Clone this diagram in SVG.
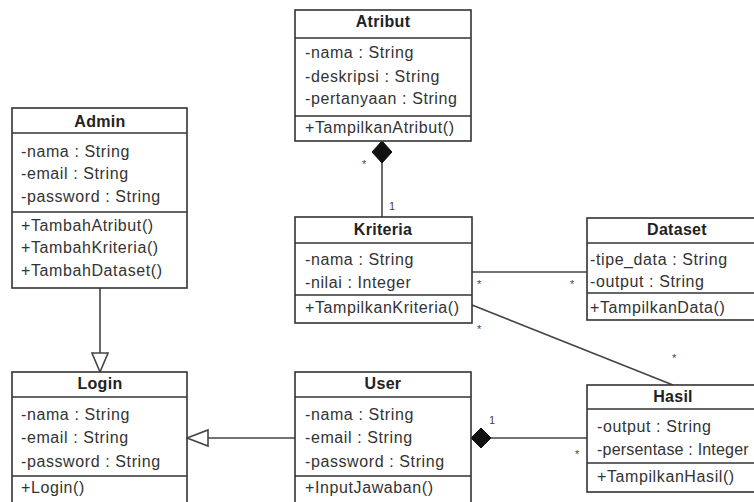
<svg xmlns="http://www.w3.org/2000/svg" width="754" height="502" viewBox="0 0 754 502">
<style>
.box{fill:#fff;stroke:#333;stroke-width:1.6}
.sep{stroke:#333;stroke-width:1.6}
.t{font-family:"Liberation Sans",Arial,sans-serif;font-size:16px;letter-spacing:0.6px;fill:#333}
.h{font-family:"Liberation Sans",Arial,sans-serif;font-size:16px;font-weight:bold;letter-spacing:0.3px;fill:#222;text-anchor:middle}
.ln{stroke:#444;stroke-width:1.6;fill:none}
.m{font-family:"Liberation Sans",Arial,sans-serif;font-size:11px;fill:#444}
</style>
<rect width="754" height="502" fill="#fff"/>
<g id="connectors">
<line class="ln" x1="382" y1="162" x2="382" y2="217"/>
<polygon points="382,141 392,152 382,163 372,152" fill="#111" stroke="#111"/>
<text class="m" x="362" y="168">*</text>
<text class="m" x="389" y="210">1</text>
<line class="ln" x1="472" y1="272" x2="587" y2="272"/>
<text class="m" x="477" y="288">*</text>
<text class="m" x="570" y="288">*</text>
<line class="ln" x1="472" y1="305" x2="673" y2="385"/>
<text class="m" x="477" y="333">*</text>
<text class="m" x="672" y="362">*</text>
<line class="ln" x1="100" y1="288" x2="100" y2="353"/>
<polygon points="92,353 108,353 100,372" fill="#fff" stroke="#444" stroke-width="1.6"/>
<line class="ln" x1="208" y1="438" x2="295" y2="438"/>
<polygon points="187,438 208,430 208,446" fill="#fff" stroke="#444" stroke-width="1.6"/>
<line class="ln" x1="491" y1="438" x2="587" y2="438"/>
<polygon points="471,438 481,428 491,438 481,448" fill="#111" stroke="#111"/>
<text class="m" x="489" y="424">1</text>
<text class="m" x="575" y="458">*</text>
</g>
<g id="Atribut">
<rect class="box" x="295" y="10" width="176" height="131"/>
<line class="sep" x1="295" y1="38" x2="471" y2="38"/>
<line class="sep" x1="295" y1="116" x2="471" y2="116"/>
<text class="h" x="383" y="27">Atribut</text>
<text class="t" x="305" y="58">-nama : String</text>
<text class="t" x="305" y="82">-deskripsi : String</text>
<text class="t" x="305" y="104">-pertanyaan : String</text>
<text class="t" x="305" y="133">+TampilkanAtribut()</text>
</g>
<g id="Admin">
<rect class="box" x="12" y="108" width="175" height="180"/>
<line class="sep" x1="12" y1="133" x2="187" y2="133"/>
<line class="sep" x1="12" y1="212" x2="187" y2="212"/>
<text class="h" x="100" y="127">Admin</text>
<text class="t" x="21" y="157">-nama : String</text>
<text class="t" x="21" y="179">-email : String</text>
<text class="t" x="21" y="202">-password : String</text>
<text class="t" x="21" y="231">+TambahAtribut()</text>
<text class="t" x="21" y="253">+TambahKriteria()</text>
<text class="t" x="21" y="276">+TambahDataset()</text>
</g>
<g id="Kriteria">
<rect class="box" x="295" y="217" width="177" height="106"/>
<line class="sep" x1="295" y1="243" x2="472" y2="243"/>
<line class="sep" x1="295" y1="295" x2="472" y2="295"/>
<text class="h" x="383" y="235">Kriteria</text>
<text class="t" x="305" y="265">-nama : String</text>
<text class="t" x="305" y="288">-nilai : Integer</text>
<text class="t" x="305" y="313">+TampilkanKriteria()</text>
</g>
<g id="Dataset">
<rect class="box" x="587" y="218" width="180" height="102"/>
<line class="sep" x1="587" y1="243" x2="767" y2="243"/>
<line class="sep" x1="587" y1="293" x2="767" y2="293"/>
<text class="h" x="677" y="235">Dataset</text>
<text class="t" x="590" y="265">-tipe_data : String</text>
<text class="t" x="590" y="287">-output : String</text>
<text class="t" x="590" y="313">+TampilkanData()</text>
</g>
<g id="Login">
<rect class="box" x="12" y="372" width="175" height="140"/>
<line class="sep" x1="12" y1="397" x2="187" y2="397"/>
<line class="sep" x1="12" y1="476" x2="187" y2="476"/>
<text class="h" x="100" y="389">Login</text>
<text class="t" x="21" y="420">-nama : String</text>
<text class="t" x="21" y="443">-email : String</text>
<text class="t" x="21" y="467">-password : String</text>
<text class="t" x="21" y="493">+Login()</text>
</g>
<g id="User">
<rect class="box" x="295" y="372" width="176" height="140"/>
<line class="sep" x1="295" y1="397" x2="471" y2="397"/>
<line class="sep" x1="295" y1="476" x2="471" y2="476"/>
<text class="h" x="383" y="389">User</text>
<text class="t" x="305" y="420">-nama : String</text>
<text class="t" x="305" y="443">-email : String</text>
<text class="t" x="305" y="467">-password : String</text>
<text class="t" x="305" y="493">+InputJawaban()</text>
</g>
<g id="Hasil">
<rect class="box" x="587" y="385" width="180" height="107"/>
<line class="sep" x1="587" y1="409" x2="767" y2="409"/>
<line class="sep" x1="587" y1="463" x2="767" y2="463"/>
<text class="h" x="673" y="402">Hasil</text>
<text class="t" x="597" y="432">-output : String</text>
<text class="t" x="597" y="455" style="letter-spacing:0.2px">-persentase : Integer</text>
<text class="t" x="597" y="482">+TampilkanHasil()</text>
</g>
</svg>
